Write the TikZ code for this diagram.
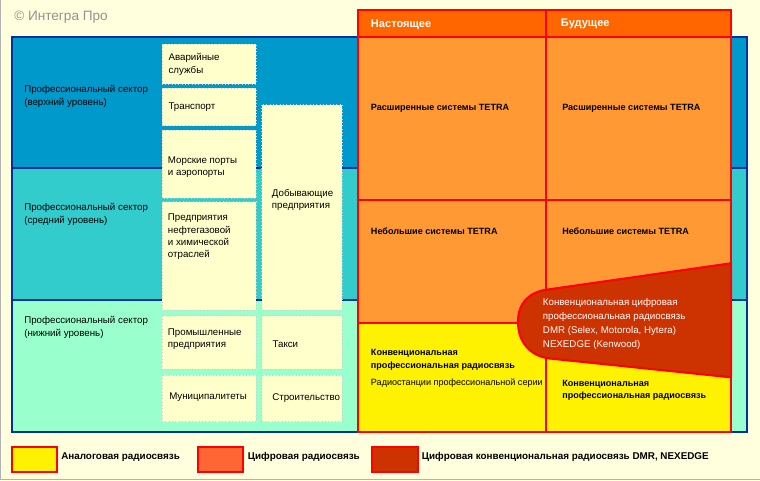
\documentclass[tikz,border=0pt]{standalone}
\usepackage{fontspec}
\setmainfont{Liberation Sans}
\usetikzlibrary{positioning}

\definecolor{pagebg}{HTML}{FFFFDD}
\definecolor{topband}{HTML}{0099CC}
\definecolor{midband}{HTML}{33CCCC}
\definecolor{lowband}{HTML}{99FFCC}
\definecolor{frameblue}{HTML}{003399}
\definecolor{cream}{HTML}{FFFFCC}
\definecolor{hdrorange}{HTML}{FF6600}
\definecolor{cellorange}{HTML}{FF9933}
\definecolor{legorange}{HTML}{FF6633}
\definecolor{dmrred}{HTML}{CC3300}
\definecolor{redline}{HTML}{FF0000}

\begin{document}
\begin{tikzpicture}[
    x=0.75pt, y=-0.75pt,
    txt/.style={anchor=west, align=left, inner sep=0pt,
                font=\fontsize{7.3}{9.2}\selectfont},
    sector/.style={txt, font=\fontsize{7.3}{10}\selectfont},
    boldtxt/.style={txt, font=\fontsize{6.8}{9.6}\selectfont\bfseries},
    hdr/.style={txt, text=white, font=\fontsize{8.3}{10}\selectfont\bfseries},
    legtxt/.style={txt, font=\fontsize{7.4}{9}\selectfont\bfseries},
    seg/.style={fill=cream, draw=gray!40, dotted, line width=0.5pt},
    redl/.style={draw=redline, line width=1.6pt},
    bluel/.style={draw=frameblue, line width=1.6pt},
    legbox/.style={draw=redline, line width=1.6pt},
]

\useasboundingbox (0,0) rectangle (760,481);
\fill[pagebg] (0,0) rectangle (760,481);
\draw[gray!60, line width=1pt] (0.5,0) -- (0.5,479.5) -- (760,479.5);

% Copyright
\node[txt, text=gray!85, font=\fontsize{10.2}{12}\selectfont] (copy) at (14,17.5)
  {© Интегра Про};

% Sector bands
\fill[topband] (12,37) rectangle (747,168);
\fill[midband] (12,168) rectangle (747,300);
\fill[lowband] (12,300) rectangle (747,432);
\draw[bluel] (12,37) rectangle (747,432);
\draw[bluel] (12,168) -- (747,168);
\draw[bluel] (12,300) -- (747,300);

\node[sector] (top) at (24,96.7) {Профессиональный сектор\\(верхний уровень)};
\node[sector] (mid) at (24,214.3) {Профессиональный сектор\\(средний уровень)};
\node[sector] (low) at (24,327.7) {Профессиональный сектор\\(нижний уровень)};

% User segments
\draw[seg] (162,44) rectangle (256,84.3);
\draw[seg] (162,88.3) rectangle (256,125.7);
\draw[seg] (162,130) rectangle (256,198);
\draw[seg] (162,201.7) rectangle (256,310);
\draw[seg] (162,315.7) rectangle (256,369.3);
\draw[seg] (162,375) rectangle (256,421.7);
\draw[seg] (261.7,104.7) rectangle (342.3,310);
\draw[seg] (261.7,315.7) rectangle (342.3,369.3);
\draw[seg] (261.7,375) rectangle (342.3,421.7);

\node[txt] (ems) at (168.3,64.5) {Аварийные\\службы};
\node[txt] (trans) at (168.3,107) {Транспорт};
\node[txt] (ports) at (167.7,167.5) {Морские порты\\и аэропорты};
\node[txt] (oil) at (167.7,236.8) {Предприятия\\нефтегазовой\\и химической\\отраслей};
\node[txt] (ind) at (167.7,339.5) {Промышленные\\предприятия};
\node[txt] (mun) at (169,397.3) {Муниципалитеты};
\node[txt] (mine) at (271.7,200.3) {Добывающие\\предприятия};
\node[txt] (taxi) at (272.3,344.3) {Такси};
\node[txt] (build) at (272,398.3) {Строительство};

% Radio systems
\fill[cellorange] (358,37) rectangle (731,432);
\fill[hdrorange] (358,10) rectangle (731,37);
\fill[yellow] (358,322.7) rectangle (546,432);
\fill[yellow] (546,340) rectangle (731,432);
\draw[redl] (358,10) rectangle (731,432);
\draw[redl] (358,37) -- (731,37);
\draw[redl] (358,200) -- (731,200);
\draw[redl] (358,322.7) -- (530,322.7);
\draw[redl] (546,10) -- (546,300);
\draw[redl] (546,350) -- (546,432);

% DMR / NEXEDGE area
\filldraw[redl, fill=dmrred, line join=round]
  (731,263.3) -- (548,289.5)
  .. controls (528,292) and (518,304) .. (518,322)
  .. controls (518,341) and (529,356) .. (550,358.5)
  -- (731,377.3) -- cycle;

\node[hdr] (now) at (370.7,24.3) {Настоящее};
\node[hdr] (future) at (560.7,24.3) {Будущее};
\node[boldtxt] (bignow) at (370.7,108.3) {Расширенные системы TETRA};
\node[boldtxt] (bigfut) at (562,108.3) {Расширенные системы TETRA};
\node[boldtxt] (smallnow) at (370.7,231.7) {Небольшие системы TETRA};
\node[boldtxt] (smallfut) at (562,231.7) {Небольшие системы TETRA};
\node[boldtxt] (convnow) at (370.7,360) {Конвенциональная\\профессиональная радиосвязь};
\node[txt, font=\fontsize{6.8}{9}\selectfont, below=6pt of convnow.south west,
  anchor=north west] (series) {Радиостанции профессиональной серии};
\node[boldtxt] (convfut) at (562,390.3) {Конвенциональная\\профессиональная радиосвязь};
\node[txt, text=white, font=\fontsize{7.3}{10.5}\selectfont] (dmr) at (542.7,323.7)
  {Конвенциональная цифровая\\профессиональная радиосвязь\\DMR (Selex, Motorola, Hytera)\\NEXEDGE (Kenwood)};

% Legend
\filldraw[legbox, fill=yellow] (12.3,447.3) rectangle (56.7,471.7);
\filldraw[legbox, fill=legorange] (198.3,447.3) rectangle (243.3,471.7);
\filldraw[legbox, fill=dmrred] (372.3,447.3) rectangle (418.3,471.7);
\node[legtxt] (analog) at (61,457) {Аналоговая радиосвязь};
\node[legtxt] (digital) at (247.7,457) {Цифровая радиосвязь};
\node[legtxt] (digconv) at (421.7,457) {Цифровая конвенциональная радиосвязь DMR, NEXEDGE};

\end{tikzpicture}
\end{document}
